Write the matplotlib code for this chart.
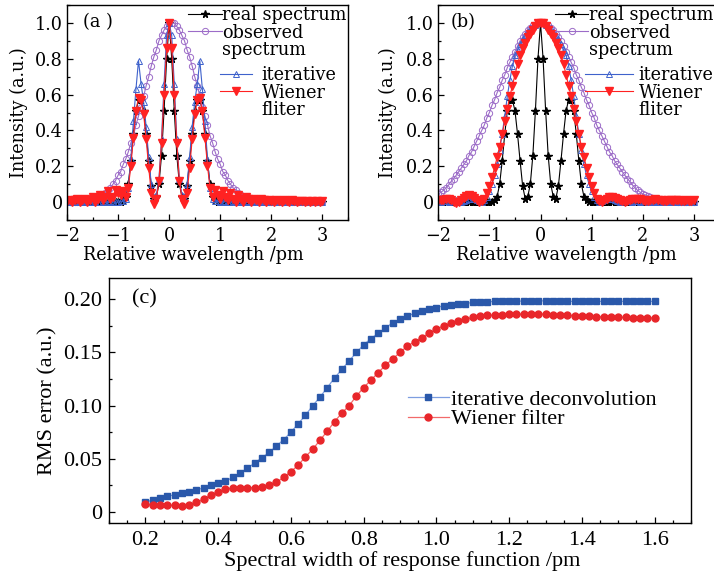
import numpy as np
import matplotlib
matplotlib.use("Agg")
import matplotlib.pyplot as plt
from matplotlib.lines import Line2D
from matplotlib.ticker import MultipleLocator, FuncFormatter

# wavelength grid of the spectra, -2 ... 3 pm
wavelength = np.round(np.linspace(-2, 3, 101), 2)

real_spectrum = [
    0, 0, 0, 0, 0, 0, 0, 0, 0, 0,
    0, 0, 0, 0, 0, 0, 0, 0, 0, 0,
    0, 0, 0.01, 0.03, 0.10, 0.23, 0.38, 0.51, 0.57, 0.57,
    0.51, 0.38, 0.23, 0.09, 0.02, 0.03, 0.10, 0.26, 0.51, 0.80,
    1.00, 0.80, 0.51, 0.26, 0.10, 0.03, 0.02, 0.09, 0.23, 0.38,
    0.51, 0.57, 0.57, 0.51, 0.38, 0.23, 0.10, 0.03, 0.01, 0,
    0, 0, 0, 0, 0, 0, 0, 0, 0, 0,
    0, 0, 0, 0, 0, 0, 0, 0, 0, 0,
    0, 0, 0, 0, 0, 0, 0, 0, 0, 0,
    0, 0, 0, 0, 0, 0, 0, 0, 0, 0,
    0]

# panel (a)
observed_a = [
    0, 0, 0, 0, 0, 0.005, 0.005, 0.01, 0.01, 0.01,
    0.02, 0.02, 0.03, 0.03, 0.04, 0.05, 0.07, 0.08, 0.10, 0.12,
    0.15, 0.17, 0.21, 0.24, 0.28, 0.33, 0.37, 0.43, 0.48, 0.53,
    0.59, 0.65, 0.70, 0.76, 0.81, 0.85, 0.90, 0.93, 0.96, 0.98,
    1.00, 1.00, 1.00, 0.98, 0.96, 0.93, 0.90, 0.85, 0.81, 0.76,
    0.70, 0.65, 0.59, 0.53, 0.48, 0.43, 0.37, 0.33, 0.28, 0.24,
    0.21, 0.17, 0.15, 0.12, 0.10, 0.08, 0.07, 0.05, 0.04, 0.03,
    0.03, 0.02, 0.02, 0.01, 0.01, 0.01, 0.005, 0.005, 0, 0,
    0, 0, 0, 0, 0, 0, 0, 0, 0, 0,
    0, 0, 0, 0, 0, 0, 0, 0, 0, 0,
    0]
iterative_a = [
    0, 0.005, 0, 0, 0.005, 0, 0, 0.005, 0, 0,
    0, 0.005, 0, 0, 0.005, 0, 0, 0.005, 0, 0,
    0, 0.005, 0.005, 0.02, 0.08, 0.24, 0.45, 0.63, 0.79, 0.66,
    0.56, 0.42, 0.25, 0.10, 0.03, 0.04, 0.13, 0.35, 0.66, 0.93,
    1.00, 0.93, 0.66, 0.35, 0.13, 0.04, 0.03, 0.10, 0.25, 0.42,
    0.56, 0.66, 0.79, 0.63, 0.45, 0.24, 0.08, 0.02, 0.005, 0.005,
    0, 0, 0.005, 0, 0, 0.005, 0, 0, 0.005, 0,
    0, 0.005, 0, 0, 0.005, 0, 0, 0, 0.005, 0,
    0, 0, 0.005, 0, 0, 0, 0, 0.005, 0, 0,
    0, 0, 0, 0, 0, 0, 0, 0, 0, 0,
    0]
wiener_a = [
    0.005, 0.01, 0.0, 0.01, 0.015, 0.0, 0.01, 0.02, 0.0, 0.01,
    0.03, 0.0, 0.02, 0.04, 0.01, 0.03, 0.06, 0.02, 0.03, 0.07,
    0.05, 0.04, 0.06, 0.03, 0.08, 0.20, 0.36, 0.51, 0.58, 0.57,
    0.49, 0.35, 0.19, 0.05, -0.01, 0.02, 0.12, 0.33, 0.60, 0.86,
    1.00, 0.86, 0.60, 0.33, 0.12, 0.02, -0.01, 0.05, 0.19, 0.35,
    0.49, 0.57, 0.58, 0.51, 0.36, 0.20, 0.08, 0.03, 0.07, 0.04,
    0.02, 0.06, 0.03, 0.01, 0.05, 0.02, 0.0, 0.04, 0.02, 0.0,
    0.03, 0.015, 0.0, 0.02, 0.01, 0.0, 0.015, 0.01, 0.0, 0.01,
    0.005, 0.0, 0.01, 0.005, 0.0, 0.01, 0.005, 0.0, 0.01, 0.005,
    0.0, 0.005, 0.005, 0.0, 0.005, 0.0, 0.005, 0.0, 0.005, 0.0,
    0.005]

# panel (b)
observed_b = [
    0.045, 0.055, 0.065, 0.08, 0.095, 0.115, 0.13, 0.15, 0.17, 0.19,
    0.21, 0.23, 0.26, 0.28, 0.31, 0.34, 0.37, 0.40, 0.43, 0.47,
    0.50, 0.54, 0.57, 0.61, 0.64, 0.68, 0.71, 0.75, 0.78, 0.81,
    0.84, 0.87, 0.90, 0.92, 0.94, 0.96, 0.97, 0.99, 0.99, 1.00,
    1.00, 1.00, 0.99, 0.99, 0.97, 0.96, 0.94, 0.92, 0.90, 0.87,
    0.84, 0.81, 0.78, 0.75, 0.71, 0.68, 0.64, 0.61, 0.57, 0.54,
    0.50, 0.47, 0.43, 0.40, 0.37, 0.34, 0.31, 0.28, 0.26, 0.23,
    0.21, 0.19, 0.17, 0.15, 0.13, 0.115, 0.095, 0.08, 0.065, 0.055,
    0.045, 0.04, 0.035, 0.03, 0.025, 0.02, 0.015, 0.012, 0.01, 0.008,
    0.006, 0.005, 0.004, 0.004, 0.003, 0.003, 0.002, 0.002, 0.002, 0.001,
    0.001]
iterative_b = [
    0.005, 0.0, 0.005, 0.005, 0.0, 0.005, 0.01, 0.01, 0.005, 0.0,
    0.005, 0.01, 0.015, 0.02, 0.015, 0.01, 0.005, 0.0, 0.01, 0.03,
    0.06, 0.10, 0.15, 0.21, 0.29, 0.38, 0.48, 0.59, 0.68, 0.76,
    0.82, 0.85, 0.88, 0.91, 0.93, 0.95, 0.97, 0.98, 0.99, 1.00,
    1.00, 1.00, 0.99, 0.98, 0.97, 0.95, 0.93, 0.91, 0.88, 0.85,
    0.82, 0.76, 0.68, 0.59, 0.48, 0.38, 0.29, 0.21, 0.15, 0.10,
    0.06, 0.03, 0.01, 0.0, 0.005, 0.01, 0.015, 0.02, 0.015, 0.01,
    0.005, 0.0, 0.005, 0.01, 0.01, 0.005, 0.0, 0.005, 0.005, 0.0,
    0.005, 0.005, 0.0, 0.005, 0.0, 0.005, 0.0, 0.0, 0.005, 0.0,
    0.0, 0.005, 0.0, 0.0, 0.005, 0.0, 0.0, 0.0, 0.005, 0.0,
    0.0]
wiener_b = [
    0.01, 0.01, 0.01, 0.015, 0.015, 0.01, 0.0, -0.005, 0.0, 0.01,
    0.025, 0.035, 0.04, 0.035, 0.025, 0.01, 0.0, 0.005, 0.02, 0.05,
    0.09, 0.14, 0.19, 0.25, 0.31, 0.38, 0.45, 0.52, 0.59, 0.65,
    0.71, 0.77, 0.82, 0.86, 0.89, 0.92, 0.94, 0.96, 0.98, 1.00,
    1.00, 1.00, 0.98, 0.96, 0.94, 0.92, 0.89, 0.86, 0.82, 0.77,
    0.71, 0.65, 0.59, 0.52, 0.45, 0.38, 0.31, 0.25, 0.19, 0.14,
    0.09, 0.05, 0.02, 0.005, 0.0, 0.01, 0.02, 0.03, 0.03, 0.025,
    0.02, 0.01, 0.005, 0.0, 0.005, 0.01, 0.015, 0.02, 0.02, 0.015,
    0.01, 0.005, 0.005, 0.01, 0.01, 0.015, 0.01, 0.01, 0.005, 0.005,
    0.01, 0.01, 0.005, 0.01, 0.01, 0.005, 0.005, 0.01, 0.005, 0.005,
    0.01]

# panel (c): spectral width of the response function, 0.2 ... 1.6 pm
resp_width = np.round(np.linspace(0.2, 1.6, 71), 2)
rms_iterative = [
    0.009, 0.0115, 0.013, 0.015, 0.016, 0.018, 0.019, 0.021, 0.0225, 0.025,
    0.027, 0.029, 0.0325, 0.037, 0.041, 0.046, 0.051, 0.056, 0.062, 0.068,
    0.075, 0.083, 0.091, 0.100, 0.108, 0.117, 0.126, 0.134, 0.142, 0.150,
    0.157, 0.163, 0.168, 0.173, 0.178, 0.181, 0.184, 0.187, 0.189, 0.191,
    0.192, 0.194, 0.195, 0.196, 0.196, 0.197, 0.197, 0.1975, 0.198, 0.198,
    0.198, 0.198, 0.1985, 0.1985, 0.1985, 0.1985, 0.1985, 0.198, 0.198, 0.198,
    0.198, 0.198, 0.198, 0.198, 0.198, 0.198, 0.198, 0.198, 0.198, 0.198,
    0.198]
rms_wiener = [
    0.0075, 0.0066, 0.0066, 0.0063, 0.0063, 0.006, 0.0063, 0.009, 0.012, 0.016,
    0.019, 0.0215, 0.0225, 0.023, 0.023, 0.023, 0.0235, 0.025, 0.028, 0.0325,
    0.038, 0.044, 0.052, 0.059, 0.0675, 0.076, 0.085, 0.093, 0.100, 0.109,
    0.117, 0.124, 0.131, 0.138, 0.144, 0.150, 0.156, 0.160, 0.164, 0.168,
    0.172, 0.175, 0.1775, 0.180, 0.181, 0.183, 0.184, 0.185, 0.185, 0.1855,
    0.186, 0.186, 0.186, 0.186, 0.186, 0.186, 0.1855, 0.1855, 0.185, 0.1845,
    0.1845, 0.184, 0.1835, 0.1835, 0.183, 0.183, 0.183, 0.1825, 0.1825, 0.1825,
    0.1825]

FONT_AB = {"family": "DejaVu Serif", "size": 12.7}
FONT_C = {"family": "Liberation Serif", "size": 16}


def style_axis(ax, font, xmaj, xmin, ymaj, ymin, yfmt):
    ax.xaxis.set_major_locator(MultipleLocator(xmaj))
    ax.xaxis.set_minor_locator(MultipleLocator(xmin))
    ax.yaxis.set_major_locator(MultipleLocator(ymaj))
    ax.yaxis.set_minor_locator(MultipleLocator(ymin))
    ax.yaxis.set_major_formatter(FuncFormatter(yfmt))
    ax.tick_params(which="both", direction="in", top=False, right=False, width=0.9)
    ax.tick_params(which="major", length=4.5)
    ax.tick_params(which="minor", length=2.5)
    for lab in ax.get_xticklabels() + ax.get_yticklabels():
        lab.set_fontfamily(font["family"])
        lab.set_fontsize(font["size"])
    for sp in ax.spines.values():
        sp.set_linewidth(1.0)


def draw_spectrum(ax, observed, iterative, wiener, tag, tag_x, leg1_x, leg2_x, leg2_len, leg2_pad):
    h_real, = ax.plot(wavelength, real_spectrum, color="black", lw=0.8, marker="*", ms=5.5)
    h_obs, = ax.plot(wavelength, observed, color="#9c6cc8", lw=0.8, marker="o", ms=4.5,
                     mfc="none", mew=0.7)
    h_it, = ax.plot(wavelength, iterative, color="#3f62cc", lw=0.8, marker="^", ms=5,
                    mfc="none", mew=0.7)
    h_wi, = ax.plot(wavelength, wiener, color="#ff2222", lw=0.8, marker="v", ms=5.5)
    ax.set_xlim(-2, 3.5)
    ax.set_ylim(-0.1, 1.1)
    style_axis(ax, FONT_AB, 1, 0.5, 0.2, 0.1, lambda v, p: "0" if abs(v) < 1e-9 else f"{v:.1f}")
    ax.tick_params(axis="x", pad=5)
    ax.tick_params(axis="y", pad=3)
    ax.set_xlabel("Relative wavelength /pm", fontdict=FONT_AB)
    ax.set_ylabel("Intensity (a.u.)", fontdict=FONT_AB)
    ax.text(tag_x, 0.921, tag, transform=ax.transAxes, va="center", ha="left", fontdict=FONT_AB)

    blank = Line2D([], [], linestyle="none")
    leg1 = ax.legend([h_real, h_obs, blank], ["real spectrum", "observed", "spectrum"],
                     loc="upper left", bbox_to_anchor=(leg1_x, 0.993), frameon=False,
                     borderpad=0, borderaxespad=0, handlelength=1.9, handletextpad=0.05,
                     labelspacing=-0.05, numpoints=1, prop=FONT_AB)
    ax.add_artist(leg1)
    ax.legend([h_it, h_wi, blank], ["iterative", "Wiener", "fliter"],
              loc="upper left", bbox_to_anchor=(leg2_x, 0.714), frameon=False,
              borderpad=0, borderaxespad=0, handlelength=leg2_len, handletextpad=leg2_pad,
              labelspacing=-0.05, numpoints=1, prop=FONT_AB)


fig = plt.figure(figsize=(7.14, 5.74), dpi=100)
ax_a = fig.add_axes([0.0938, 0.6167, 0.3936, 0.3746])
ax_b = fig.add_axes([0.6139, 0.6167, 0.3936, 0.3746])
ax_c = fig.add_axes([0.1527, 0.0894, 0.8151, 0.4263])

draw_spectrum(ax_a, observed_a, iterative_a, wiener_a, "(a )", 0.057, 0.431, 0.545, 1.8, 0.55)
ax_a.xaxis.set_label_coords(0.45, -0.12)
ax_a.yaxis.set_label_coords(-0.14, 0.5)

draw_spectrum(ax_b, observed_b, iterative_b, wiener_b, "(b)", 0.042, 0.415, 0.522, 2.7, 0.35)
ax_b.xaxis.set_label_coords(0.455, -0.12)
ax_b.yaxis.set_label_coords(-0.147, 0.5)

# panel (c)
ax_c.plot(resp_width, rms_iterative, color="#7d9ee0", lw=0.9, marker="s", ms=4,
          mfc="#2a58aa", mec="#2a58aa", label="iterative deconvolution")
ax_c.plot(resp_width, rms_wiener, color="#f26a6a", lw=0.9, marker="o", ms=5,
          mfc="#e8262a", mec="#e8262a", label="Wiener filter")
ax_c.set_xlim(0.1, 1.7)
ax_c.set_ylim(-0.01, 0.22)
style_axis(ax_c, FONT_C, 0.2, 0.05, 0.05, 0.025, lambda v, p: "0" if abs(v) < 1e-9 else f"{v:.2f}")
ax_c.xaxis.set_major_formatter(FuncFormatter(lambda v, p: f"{v:.1f}"))
for lab in ax_c.get_xticklabels():
    lab.set_fontfamily(FONT_C["family"])
    lab.set_fontsize(FONT_C["size"])
ax_c.tick_params(axis="x", pad=6)
ax_c.tick_params(axis="y", pad=5)
ax_c.set_xlabel("Spectral width of response function /pm", fontdict=FONT_C)
ax_c.set_ylabel("RMS error (a.u.)", fontdict=FONT_C)
ax_c.xaxis.set_label_coords(0.503, -0.115)
ax_c.yaxis.set_label_coords(-0.088, 0.5)
ax_c.text(0.0395, 0.914, "(c)", transform=ax_c.transAxes, va="center", ha="left", fontdict=FONT_C)
ax_c.legend(loc="upper left", bbox_to_anchor=(0.513, 0.546), frameon=False, borderpad=0,
            borderaxespad=0, handlelength=1.85, handletextpad=0.1, labelspacing=-0.04,
            numpoints=1, prop=FONT_C)

fig.savefig("out.png", dpi=100)
plt.close(fig)
